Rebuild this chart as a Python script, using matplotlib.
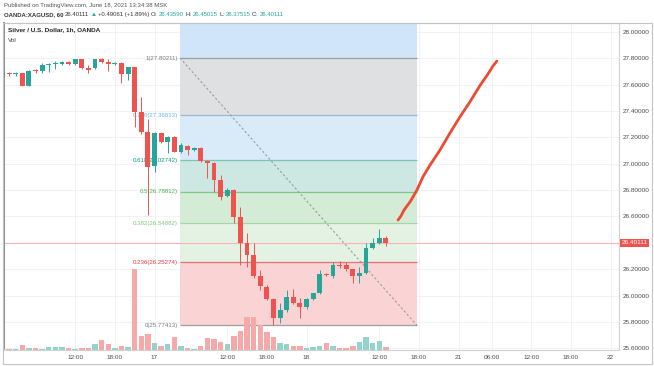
import numpy as np
import matplotlib
matplotlib.use('Agg')
import matplotlib.pyplot as plt
from matplotlib.patches import Rectangle

# hourly bars, 0 = first bar of June 17 (OANDA has a 1h break each day, 23 bars/day)
bars = np.arange(-23, 36)
opens = np.array([27.656, 27.690, 27.682, 27.686, 27.590, 27.707, 27.704, 27.747, 27.755, 27.754,
                  27.774, 27.757, 27.792, 27.724, 27.724, 27.792, 27.774, 27.757, 27.766, 27.681,
                  27.732, 27.395, 27.243, 26.983, 27.231, 27.163, 27.205, 27.091, 27.137, 27.104,
                  27.122, 27.023, 27.008, 26.877, 26.755, 26.801, 26.598, 26.401, 26.308, 26.149,
                  26.067, 25.972, 25.828, 25.891, 25.987, 25.946, 25.911, 25.972, 26.017, 26.164,
                  26.149, 26.232, 26.232, 26.199, 26.149, 26.169, 26.359, 26.401, 26.4359])
highs = np.array([27.690, 27.698, 27.698, 27.692, 27.708, 27.716, 27.766, 27.762, 27.782, 27.780,
                  27.781, 27.797, 27.795, 27.749, 27.797, 27.80211, 27.796, 27.772, 27.774, 27.734,
                  27.735, 27.509, 27.339, 27.240, 27.238, 27.210, 27.212, 27.155, 27.142, 27.127,
                  27.128, 27.030, 27.012, 26.915, 26.818, 26.808, 26.674, 26.475, 26.397, 26.194,
                  26.080, 25.982, 25.944, 26.042, 26.048, 25.982, 25.982, 26.022, 26.194, 26.172,
                  26.257, 26.262, 26.255, 26.205, 26.219, 26.397, 26.440, 26.503, 26.45015])
lows = np.array([27.650, 27.666, 27.666, 27.588, 27.588, 27.686, 27.691, 27.698, 27.716, 27.750,
                 27.750, 27.752, 27.716, 27.691, 27.716, 27.762, 27.706, 27.750, 27.610, 27.635,
                 27.279, 27.225, 26.611, 26.940, 27.160, 27.084, 27.086, 27.079, 27.066, 27.098,
                 27.015, 26.892, 26.788, 26.725, 26.746, 26.551, 26.232, 26.219, 26.132, 26.040,
                 25.965, 25.77413, 25.792, 25.878, 25.935, 25.830, 25.900, 25.965, 26.012, 26.146,
                 26.132, 26.207, 26.187, 26.095, 26.098, 26.165, 26.355, 26.395, 26.37515])
closes = np.array([27.686, 27.684, 27.687, 27.590, 27.704, 27.702, 27.749, 27.751, 27.759, 27.774,
                   27.754, 27.792, 27.724, 27.711, 27.792, 27.774, 27.757, 27.766, 27.681, 27.732,
                   27.395, 27.243, 26.978, 27.233, 27.167, 27.205, 27.091, 27.142, 27.104, 27.122,
                   27.023, 27.003, 26.877, 26.750, 26.801, 26.598, 26.401, 26.308, 26.149, 26.073,
                   25.972, 25.828, 25.891, 25.989, 25.946, 25.911, 25.976, 26.017, 26.164, 26.154,
                   26.232, 26.227, 26.202, 26.149, 26.169, 26.359, 26.401, 26.436, 26.40111])
volume = np.array([100, 150, 150, 550, 250, 250, 100, 280, 330, 330,
                   200, 150, 250, 250, 630, 1030, 600, 170, 400, 270,
                   8100, 1430, 1570, 730, 370, 570, 1300, 400, 230, 70,
                   380, 1170, 1080, 830, 600, 1400, 1930, 3270, 3270, 2500,
                   1830, 1330, 730, 600, 400, 400, 170, 270, 400, 670,
                   400, 170, 170, 400, 830, 1270, 730, 930, 270])

# fib retracement drawn from the high to the low
fib_levels = ['0', '0.236', '0.382', '0.5', '0.618', '0.786', '1']
fib_prices = [25.77413, 26.25274, 26.54882, 26.78812, 27.02742, 27.36813, 27.80211]
fib_top = 29.05528  # 1.618, off the chart
fib_start, fib_end = 3.86, 39.7
zone_colors = ['#fad4d4', '#e4f2e4', '#d4ecd6', '#cde7e3', '#d9eaf9', '#dfe0e2', '#d0e5f9']
line_colors = ['#9e9e9e', '#e57373', '#a5d6a7', '#81c784', '#7cc4b8', '#9fb9cf', '#9e9e9e']
label_colors = ['#787b86', '#f23645', '#81c784', '#4caf50', '#089981', '#64b5f6', '#787b86']

# hand drawn projection
proj_x = [36.84, 37.29, 37.75, 38.2, 38.65, 39.1, 39.7, 40.6, 41.68, 43.19, 44.7, 46.2, 47.7,
          49.2, 50.45, 51.2, 51.8]
proj_y = [26.573, 26.604, 26.649, 26.680, 26.710, 26.748, 26.801, 26.900, 26.990, 27.104, 27.233,
          27.355, 27.468, 27.590, 27.681, 27.741, 27.779]

tick_bars = [-12, -6, 0, 11, 17, 23, 34, 40, 46, 51, 57, 63, 69]
tick_labels = ['12:00', '18:00', '17', '12:00', '18:00', '18', '12:00', '18:00', '21', '06:00',
               '12:00', '18:00', '22']
price_ticks = [25.6, 25.8, 26.0, 26.2, 26.4, 26.6, 26.8, 27.0, 27.2, 27.4, 27.6, 27.8, 28.0]

plt.rcParams['font.family'] = ['Liberation Sans', 'DejaVu Sans']
W, H = 654, 366
fig = plt.figure(figsize=(W / 100, H / 100), dpi=100)
L, R, T, B = 4, 619, 23, 350
rect = [L / W, 1 - B / H, (R - L) / W, (B - T) / H]
ax = fig.add_axes(rect)
ax.set_xlim(-22.77, 70.27)
ax.set_ylim(25.5873, 28.0676)

ax.set_yticks(price_ticks)
# the 26.4 label is hidden behind the last price tag
ax.set_yticklabels(['' if abs(p - 26.4) < 1e-6 else '%.5f' % p for p in price_ticks])
ax.yaxis.tick_right()
ax.set_xticks(tick_bars)
ax.set_xticklabels(tick_labels)
ax.tick_params(axis='both', length=0, labelsize=4.6, labelcolor='#4a4a4a')
ax.tick_params(axis='y', pad=3)
ax.tick_params(axis='x', pad=3.5)
ax.grid(color='#eef0f4', lw=0.6, zorder=0)
ax.set_axisbelow(True)
for s in ['top', 'right', 'bottom']:
    ax.spines[s].set_color('#d0d0d0')
    ax.spines[s].set_linewidth(0.8)
ax.spines['left'].set_color('#8c8c8c')
ax.spines['left'].set_linewidth(1.4)

# fib zones and levels
edges = fib_prices + [fib_top]
for i in range(len(fib_prices)):
    ax.fill_between([fib_start, fib_end], edges[i], edges[i + 1], color=zone_colors[i], lw=0, zorder=1)
ax.hlines(fib_prices, fib_start, fib_end, colors=line_colors, lw=0.9, zorder=2)
for lvl, p, c in zip(fib_levels, fib_prices, label_colors):
    ax.annotate('%s(%.5f)' % (lvl, p), (fib_start, p), xytext=(-1.5, 0), textcoords='offset points',
                ha='right', va='center', fontsize=4.4, color=c, zorder=3)
ax.plot([fib_start, fib_end], [fib_prices[-1], fib_prices[0]], color='#9a9a9a', lw=0.8,
        dashes=(2, 2), zorder=2)

# last price line
ax.axhline(closes[-1], color='#f5b5b5', lw=0.8, zorder=2)

# candles
up = closes >= opens
cols = np.where(up, '#26a69a', '#ef5350')
ax.vlines(bars, lows, highs, colors=cols, lw=0.7, zorder=4)
body_low = np.minimum(opens, closes)
body_h = np.maximum(np.abs(closes - opens), 0.006)
ax.bar(bars, body_h, 0.74, bottom=body_low, color=cols, lw=0, zorder=5)

ax.plot(proj_x, proj_y, color='#ee4a33', lw=2.0, solid_capstyle='round', zorder=6)

# volume overlay
vax = fig.add_axes(rect)
vax.set_xlim(ax.get_xlim())
vax.set_ylim(0, volume.max() * (B - T) / 81)
vax.bar(bars, volume, 0.82, color=np.where(up, '#92d3cb', '#f5a9a8'), lw=0)
vax.axis('off')
vax.patch.set_visible(False)

# price label on the axis
fig.text(621.5 / W, 1 - 243 / H, '%.5f' % closes[-1], ha='left', va='center', fontsize=4.6,
         color='white', bbox=dict(boxstyle='square,pad=0.3', fc='#ef5350', ec='none'))

# outer frame
fig.add_artist(Rectangle((3 / W, 1 - 364 / H), 649 / W, 341 / H, transform=fig.transFigure,
                         fill=False, ec='#c4c4c4', lw=0.8))

# header
renderer = fig.canvas.get_renderer()


def seq_text(x, y, parts, size):
    for s, c, w in parts:
        t = fig.text(x / W, 1 - y / H, s, fontsize=size, color=c, fontweight=w, va='center', ha='left')
        bb = t.get_window_extent(renderer)
        x = bb.x1 + 1.5


fig.text(4 / W, 1 - 5 / H, 'Published on TradingView.com, June 18, 2021 13:34:38 MSK', fontsize=4.3,
         color='#555555', va='center')
dark, green = '#333333', '#26a69a'
seq_text(4, 14.5, [('OANDA:XAGUSD, 60', dark, 'bold'), ('26.40111', dark, 'normal'),
                   ('\u25b2', green, 'normal'), ('+0.49061 (+1.89%)', dark, 'normal'),
                   ('O:', dark, 'normal'), ('26.43590', green, 'normal'),
                   ('H:', dark, 'normal'), ('26.45015', green, 'normal'),
                   ('L:', dark, 'normal'), ('26.37515', green, 'normal'),
                   ('C:', dark, 'normal'), ('26.40111', green, 'normal')], 4.3)
fig.text(8 / W, 1 - 30 / H, 'Silver / U.S. Dollar, 1h, OANDA', fontsize=4.6, color='#222222',
         fontweight='bold', va='center')
fig.text(8 / W, 1 - 40 / H, 'Vol', fontsize=4.6, color='#444444', va='center')

fig.savefig('out.png', dpi=100)
